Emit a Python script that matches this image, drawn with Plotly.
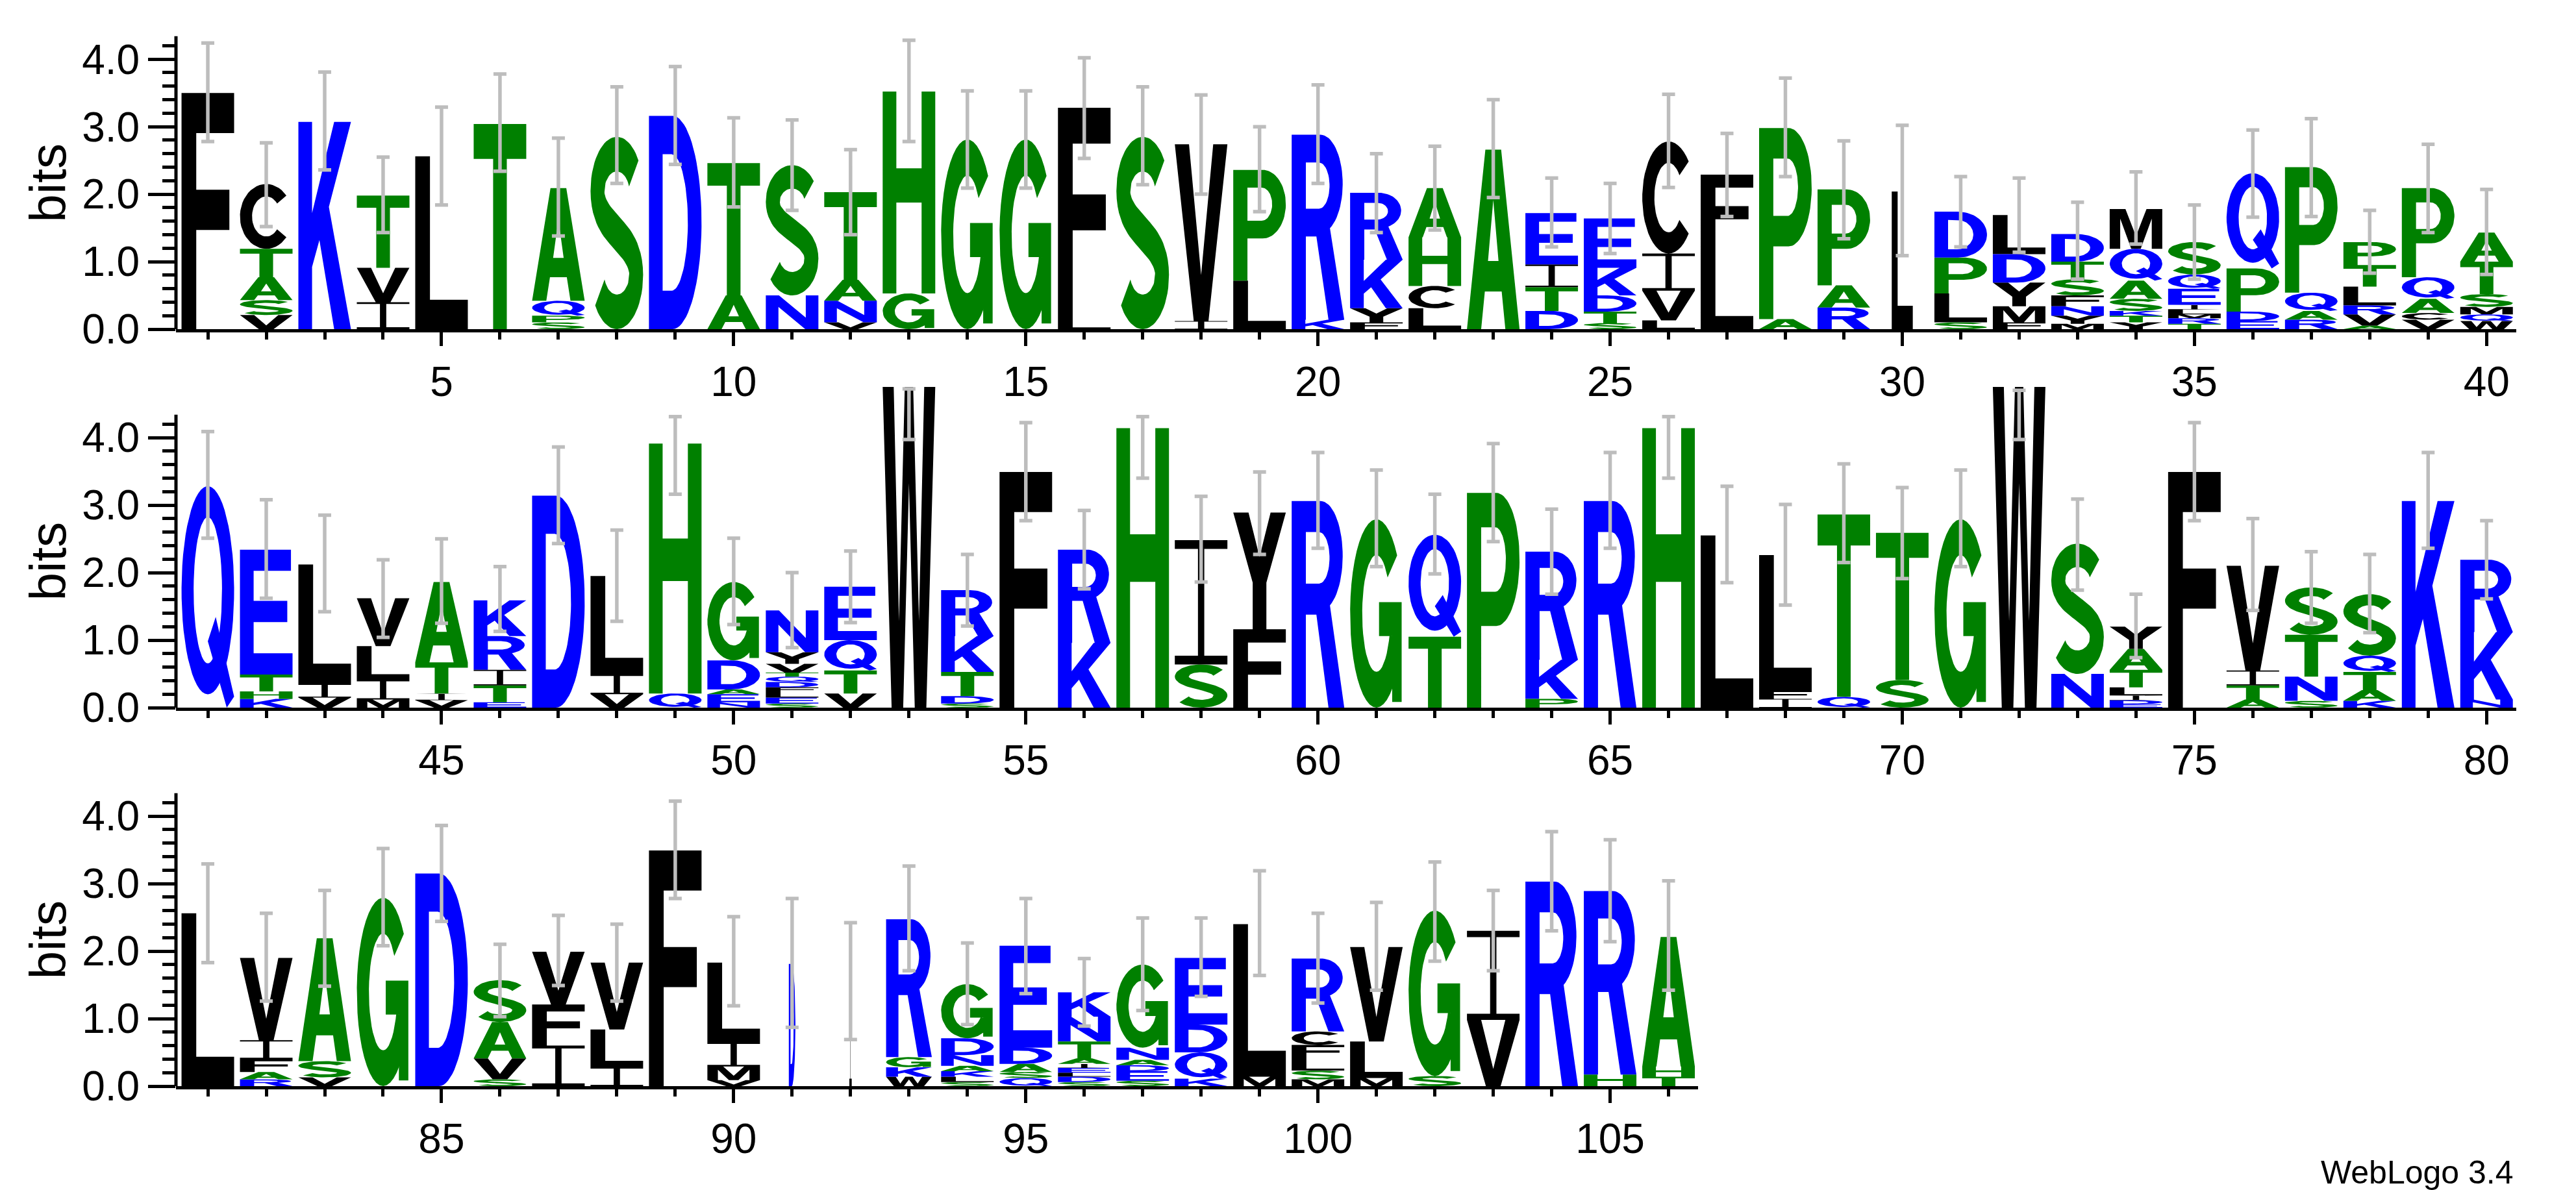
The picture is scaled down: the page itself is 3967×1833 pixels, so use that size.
import numpy as np
import plotly.graph_objects as go

# WebLogo of a 106-column protein alignment.
# letters: each column listed bottom -> top, heights in bits (same order)
letters = [
    "F", "VSATC", "K", "IVT", "L", "T", "SPQA", "S", "D", "AT",
    "NS", "VNAT", "GH", "G", "G", "LF", "S", "IV", "LP", "KR",
    "FYKR", "LCHA", "A", "DTIE", "STDKE", "LVIC", "LF", "AP", "RAP", "L",
    "SLPD", "FMYDL", "MYNFSTD", "YTKSAQM", "TRMLIEQS", "EDPQ", "RAQP", "AVRLTP", "VCAQP", "WQMSTA",
    "Q", "KHTE", "VIL", "MILV", "VITA", "ETIRK", "D", "VIL", "QH", "NEADG",
    "SELFDQTVYN", "VTQE", "W", "SDTKR", "F", "KR", "H", "SI", "FY", "R",
    "G", "TQ", "P", "PKR", "R", "H", "L", "IFL", "QT", "ST",
    "G", "W", "NS", "EDILTAY", "F", "ATIV", "SNTS", "KATQS", "K", "NKR",
    "L", "RAFIV", "VSA", "G", "D", "SVAS", "IFV", "ILV", "F", "VMIL",
    "D", "I", "WKGR", "SLKANDG", "QSADE", "SDLEIATNK", "SEDANG", "KQDE", "ML", "MSLFCR",
    "MLV", "SG", "VI", "R", "HR", "THA",
]

heights = [
    [3.50], [0.21, 0.22, 0.34, 0.42, 0.96], [3.07], [0.40, 0.51, 1.07], [2.56], [3.04],
    [0.10, 0.10, 0.22, 1.67], [2.85], [3.16], [0.50, 1.96],
    [0.50, 1.93], [0.10, 0.32, 0.31, 1.30], [0.53, 2.99], [2.81], [2.81], [0.15, 3.13], [2.85],
    [0.12, 2.62], [0.72, 1.64], [0.14, 2.74],
    [0.10, 0.21, 0.72, 0.99], [0.31, 0.33, 0.72, 0.73], [2.66], [0.27, 0.35, 0.34, 0.76],
    [0.09, 0.17, 0.24, 0.41, 0.73], [0.13, 0.44, 0.55, 1.66], [1.15, 1.14], [0.15, 2.83],
    [0.32, 0.33, 1.42], [2.04],
    [0.10, 0.43, 0.53, 0.68], [0.10, 0.24, 0.35, 0.42, 0.58], [0.08, 0.12, 0.14, 0.16, 0.24, 0.26, 0.41],
    [0.10, 0.10, 0.07, 0.18, 0.27, 0.47, 0.59], [0.08, 0.08, 0.06, 0.07, 0.07, 0.24, 0.21, 0.48],
    [0.12, 0.14, 0.64, 1.41], [0.14, 0.13, 0.27, 1.86], [0.05, 0.17, 0.13, 0.28, 0.32, 0.34],
    [0.14, 0.10, 0.21, 0.32, 1.32], [0.12, 0.10, 0.11, 0.19, 0.48, 0.43],
    [3.28], [0.13, 0.11, 0.25, 1.85], [0.15, 0.20, 1.77], [0.12, 0.29, 0.50, 0.71],
    [0.11, 0.10, 0.46, 1.19], [0.08, 0.25, 0.23, 0.50, 0.53], [3.14], [0.20, 0.29, 1.46],
    [0.21, 3.70], [0.08, 0.12, 0.07, 0.43, 1.16],
    [0.06, 0.09, 0.08, 0.07, 0.08, 0.08, 0.06, 0.13, 0.17, 0.62], [0.21, 0.34, 0.45, 0.79], [4.75],
    [0.06, 0.11, 0.36, 0.53, 0.68], [3.49], [0.96, 1.38], [4.14], [0.64, 1.84], [1.16, 1.73], [3.06],
    [2.79], [1.05, 1.51], [3.18], [0.13, 0.58, 1.60], [3.06], [4.14], [2.55], [0.13, 0.12, 2.01],
    [0.16, 2.70], [0.41, 2.18],
    [2.79], [4.75], [0.50, 1.93], [0.05, 0.06, 0.07, 0.12, 0.26, 0.31, 0.33], [3.49],
    [0.12, 0.21, 0.22, 1.55], [0.10, 0.36, 0.62, 0.70], [0.10, 0.16, 0.27, 0.24, 0.91], [3.06],
    [0.12, 1.00, 1.07],
    [2.56], [0.10, 0.11, 0.19, 0.28, 1.22], [0.13, 0.24, 1.82], [2.79], [3.15], [0.10, 0.31, 0.54, 0.62],
    [0.60, 0.61, 0.78], [0.28, 0.56, 0.99], [3.49], [0.09, 0.20, 0.36, 1.18],
    [1.81], [1.57], [0.14, 0.14, 0.15, 2.04], [0.06, 0.08, 0.08, 0.08, 0.16, 0.25, 0.80],
    [0.12, 0.09, 0.12, 0.24, 1.51], [0.06, 0.08, 0.06, 0.07, 0.06, 0.08, 0.25, 0.37, 0.36],
    [0.08, 0.14, 0.09, 0.08, 0.18, 1.23], [0.11, 0.39, 0.41, 0.99], [0.14, 2.26],
    [0.10, 0.13, 0.18, 0.20, 0.20, 1.08],
    [0.12, 0.54, 1.40], [0.15, 2.45], [0.98, 1.32], [3.03], [0.17, 2.72], [0.14, 0.15, 1.92],
]

# error bar ends (bits)
err_hi = [
    4.24, 2.76, 3.81, 2.55, 3.29, 3.78, 2.83, 3.59, 3.89, 3.13,
    3.10, 2.66, 4.28, 3.53, 3.53, 4.02, 3.59, 3.47, 3.00, 3.62,
    2.60, 2.71, 3.40, 2.24, 2.16, 3.48, 2.90, 3.72, 2.79, 3.02,
    2.26, 2.24, 1.88, 2.33, 1.84, 2.95, 3.12, 1.76, 2.74, 2.07,
    4.09, 3.08, 2.85, 2.19, 2.50, 2.09, 3.86, 2.63, 4.31, 2.51,
    2.00, 2.32, 4.72, 2.27, 4.22, 2.92, 4.31, 3.13, 3.49, 3.78,
    3.52, 3.16, 3.91, 2.94, 3.78, 4.31, 3.28, 3.01, 3.61, 3.26,
    3.52, 4.70, 3.09, 1.68, 4.22, 2.80, 2.31, 2.27, 3.78, 2.77,
    3.29, 2.56, 2.90, 3.52, 3.86, 2.10, 2.53, 2.40, 4.22, 2.51,
    2.78, 2.42, 3.26, 2.12, 2.78, 1.89, 2.49, 2.49, 3.19, 2.56,
    2.72, 3.32, 2.90, 3.77, 3.65, 3.04,
]
err_lo = [
    2.78, 1.52, 2.36, 1.43, 1.84, 2.34, 1.38, 2.16, 2.44, 1.81,
    1.76, 1.40, 2.78, 2.09, 2.09, 2.53, 2.14, 2.00, 1.74, 2.16,
    1.43, 1.47, 1.95, 1.22, 1.12, 2.10, 1.67, 2.26, 1.34, 1.09,
    1.22, 1.14, 0.74, 1.26, 0.74, 1.66, 1.67, 0.83, 1.43, 0.81,
    2.51, 1.62, 1.42, 1.04, 1.25, 1.13, 2.43, 1.28, 3.16, 1.23,
    0.89, 1.26, 3.97, 1.21, 2.77, 1.76, 3.40, 1.86, 2.27, 2.36,
    2.09, 1.98, 2.46, 1.68, 2.36, 3.40, 1.85, 1.52, 2.15, 1.91,
    2.09, 3.97, 1.74, 0.74, 2.77, 1.44, 1.25, 1.11, 2.36, 1.61,
    1.83, 1.26, 1.48, 2.08, 2.44, 1.03, 1.49, 1.26, 2.78, 1.19,
    0.87, 0.69, 1.71, 0.91, 1.37, 0.89, 1.12, 1.33, 1.64, 1.23,
    1.42, 1.85, 1.71, 2.30, 2.14, 1.42,
]

# columns drawn narrower (fraction of sequences without a gap)
width_frac = {30: 0.40, 91: 0.125, 92: 0.045, 93: 0.87}

rows = [(1, 40), (41, 80), (81, 106)]

assert len(letters) == len(heights) == len(err_hi) == len(err_lo) == 106
for s, h in zip(letters, heights):
    assert len(s) == len(h)

COLOR = {}
for c in "FCVLIYMW":
    COLOR[c] = "#000000"
for c in "KRDEQN":
    COLOR[c] = "#0000FF"
for c in "TASGHP":
    COLOR[c] = "#008000"


# ---- glyph outlines in a unit box (x 0..1, y 0..1) ----
def arc(cx, cy, rx, ry, a0, a1, n=40):
    t = np.radians(np.linspace(a0, a1, n))
    return list(zip(cx + rx * np.cos(t), cy + ry * np.sin(t)))


def area(p):
    p = np.asarray(p)
    return 0.5 * np.sum(p[:, 0] * np.roll(p[:, 1], -1) - np.roll(p[:, 0], -1) * p[:, 1])


def ccw(p):
    return list(p) if area(p) > 0 else list(p)[::-1]


def keyhole(outer, hole):
    o = ccw(outer)
    h = ccw(hole)[::-1]
    return o + [o[0]] + h + [h[0]]


def ring(a0, a1, ro=(0.5, 0.5), ri=(0.27, 0.31)):
    return ccw(arc(0.5, 0.5, ro[0], ro[1], a0, a1) + arc(0.5, 0.5, ri[0], ri[1], a1, a0))


def s_shape():
    tx, ty = 0.27, 0.18
    rx, ry = 0.5 - tx / 2, 0.19
    cu, cl = 1 - ty / 2 - ry, ty / 2 + ry
    up = arc(0.5, cu, rx, ry, 28, 180, 30)
    t = np.linspace(0, 1, 30)[1:-1]
    p0, p1, p2, p3 = (np.array(v) for v in [(0.5 - rx, cu), (0.5 - rx, 0.50), (0.5 + rx, 0.50), (0.5 + rx, cl)])
    bez = [tuple(((1 - s) ** 3) * p0 + 3 * s * (1 - s) ** 2 * p1 + 3 * s * s * (1 - s) * p2 + s ** 3 * p3) for s in t]
    lo = arc(0.5, cl, rx, ry, 0, -152, 30)
    pts = np.array(up + bez + lo)
    d = np.gradient(pts, axis=0)
    n = np.stack([-d[:, 1], d[:, 0]], axis=1)
    n /= np.linalg.norm(n, axis=1)[:, None]
    off = n * np.array([tx / 2, ty / 2])
    left = pts + off
    right = pts - off
    return ccw([tuple(v) for v in left] + [tuple(v) for v in right[::-1]])


GLYPH = {
    "A": [keyhole([(0, 0), (0.35, 1), (0.65, 1), (1, 0), (0.73, 0), (0.66, 0.21), (0.34, 0.21), (0.27, 0)],
                  [(0.40, 0.38), (0.60, 0.38), (0.50, 0.72)])],
    "C": [ring(40, 320)],
    "D": [keyhole([(0, 0), (0, 1), (0.45, 1)] + arc(0.45, 0.5, 0.55, 0.5, 90, -90),
                  [(0.26, 0.18), (0.26, 0.82), (0.43, 0.82)] + arc(0.43, 0.5, 0.31, 0.32, 90, -90))],
    "E": [ccw([(0, 0), (0, 1), (0.97, 1), (0.97, 0.83), (0.26, 0.83), (0.26, 0.59), (0.9, 0.59),
               (0.9, 0.42), (0.26, 0.42), (0.26, 0.17), (1, 0.17), (1, 0)])],
    "F": [ccw([(0, 0), (0, 1), (1, 1), (1, 0.83), (0.28, 0.83), (0.28, 0.59), (0.91, 0.59),
               (0.91, 0.42), (0.28, 0.42), (0.28, 0)])],
    "G": [ring(38, 340),
          ccw([(0.55, 0.38), (0.80, 0.38), (0.80, 0.03), (0.98, 0.03), (0.98, 0.56), (0.55, 0.56)])],
    "H": [ccw([(0, 0), (0, 1), (0.26, 1), (0.26, 0.62), (0.74, 0.62), (0.74, 1), (1, 1), (1, 0),
               (0.74, 0), (0.74, 0.45), (0.26, 0.45), (0.26, 0)])],
    "I": [ccw([(0, 0), (1, 0), (1, 0.07), (0.56, 0.07), (0.56, 0.93), (1, 0.93), (1, 1), (0, 1),
               (0, 0.93), (0.44, 0.93), (0.44, 0.07), (0, 0.07)])],
    "K": [ccw([(0, 0), (0, 1), (0.26, 1), (0.26, 0.56), (0.68, 1), (1, 1), (0.58, 0.59), (1, 0),
               (0.68, 0), (0.40, 0.43), (0.26, 0.30), (0.26, 0)])],
    "L": [ccw([(0, 0), (0, 1), (0.28, 1), (0.28, 0.17), (1, 0.17), (1, 0)])],
    "M": [ccw([(0, 0), (0, 1), (0.3, 1), (0.5, 0.32), (0.7, 1), (1, 1), (1, 0), (0.8, 0), (0.8, 0.76),
               (0.59, 0), (0.41, 0), (0.2, 0.76), (0.2, 0)])],
    "N": [ccw([(0, 0), (0, 1), (0.25, 1), (0.76, 0.34), (0.76, 1), (1, 1), (1, 0), (0.75, 0),
               (0.24, 0.66), (0.24, 0)])],
    "P": [keyhole([(0, 0), (0, 1), (0.56, 1)] + arc(0.56, 0.69, 0.44, 0.31, 90, -90) + [(0.27, 0.38), (0.27, 0)],
                  [(0.27, 0.54), (0.27, 0.84), (0.54, 0.84)] + arc(0.54, 0.69, 0.2, 0.15, 90, -90))],
    "Q": [keyhole(arc(0.5, 0.53, 0.5, 0.47, -90, 270, 60), arc(0.5, 0.53, 0.27, 0.33, -90, 270, 60)),
          ccw([(0.50, 0.30), (0.65, 0.41), (1.0, 0.05), (0.86, 0.0)])],
    "R": [keyhole([(0, 0), (0, 1), (0.55, 1)] + arc(0.55, 0.735, 0.42, 0.265, 90, -65, 30)
                  + [(1.0, 0.0), (0.70, 0.0), (0.47, 0.45), (0.27, 0.45), (0.27, 0)],
                  [(0.27, 0.6), (0.27, 0.85), (0.52, 0.85)] + arc(0.52, 0.725, 0.2, 0.125, 90, -90, 24))],
    "S": [s_shape()],
    "T": [ccw([(0, 1), (1, 1), (1, 0.83), (0.63, 0.83), (0.63, 0), (0.37, 0), (0.37, 0.83), (0, 0.83)])],
    "V": [ccw([(0, 1), (0.27, 1), (0.5, 0.26), (0.73, 1), (1, 1), (0.64, 0), (0.36, 0)])],
    "W": [ccw([(0, 1), (0.21, 1), (0.31, 0.27), (0.42, 1), (0.58, 1), (0.69, 0.27), (0.79, 1), (1, 1),
               (0.83, 0), (0.61, 0), (0.5, 0.7), (0.39, 0), (0.17, 0)])],
    "Y": [ccw([(0, 1), (0.29, 1), (0.5, 0.62), (0.71, 1), (1, 1), (0.63, 0.4), (0.63, 0), (0.37, 0),
               (0.37, 0.4)])],
}

FONT = "Liberation Sans, Arial, Helvetica, sans-serif"
W_PX, H_PX = 3967, 1833
PX_COL = 89.98
PX_BIT = 104.0
X0_PX = 263
Y_TOP = 4.8
row_bottom = [499, 1082, 1665]
GRAY = "#BDBDBD"

fig = go.Figure()
layout = dict(width=W_PX, height=H_PX, margin=dict(l=0, r=0, t=0, b=0),
              paper_bgcolor="white", plot_bgcolor="white", showlegend=False,
              shapes=[], annotations=[])

for r, (lo, hi) in enumerate(rows):
    k = "" if r == 0 else str(r + 1)
    xa, ya = "x" + k, "y" + k
    layers = {}
    for pos in range(lo, hi + 1):
        i = pos - 1
        w = 0.9 * width_frac.get(pos, 1.0)
        y0 = 0.0
        for ch, h in zip(letters[i], heights[i]):
            for li, part in enumerate(GLYPH[ch]):
                xs, ys = layers.setdefault((COLOR[ch], li), ([], []))
                for u, v in part:
                    xs.append(pos + (u - 0.5) * w)
                    ys.append(y0 + v * h)
                xs.append(None)
                ys.append(None)
            y0 += h
    for (col, li), (xs, ys) in sorted(layers.items(), key=lambda t: t[0][1]):
        fig.add_trace(go.Scatter(x=xs, y=ys, xaxis=xa, yaxis=ya, mode="lines",
                                 line=dict(width=0, color=col), fill="toself",
                                 fillcolor=col, hoverinfo="skip"))
    idx = list(range(lo - 1, hi))
    fig.add_trace(go.Scatter(
        x=[i + 1 for i in idx], y=[(err_hi[i] + err_lo[i]) / 2 for i in idx],
        xaxis=xa, yaxis=ya, mode="markers", marker=dict(color="rgba(0,0,0,0)", size=1),
        error_y=dict(type="data", symmetric=True, array=[(err_hi[i] - err_lo[i]) / 2 for i in idx],
                     color=GRAY, thickness=5.5, width=10),
        hoverinfo="skip"))

    x_range = [lo - 0.545, hi + 0.51]
    x_dom = [X0_PX / W_PX, (X0_PX + (x_range[1] - x_range[0]) * PX_COL) / W_PX]
    b = row_bottom[r]
    y_dom = [1 - b / H_PX, min(1.0, 1 - (b - Y_TOP * PX_BIT) / H_PX)]
    layout["xaxis" + k] = dict(
        domain=x_dom, range=x_range, anchor=ya, showline=True, linecolor="black", linewidth=5,
        ticks="outside", tickvals=[v for v in range(lo, hi + 1) if v % 5 == 0], ticklen=21,
        tickwidth=5, tickcolor="black",
        minor=dict(tickvals=list(range(lo, hi + 1)), ticks="outside", ticklen=11, tickwidth=5,
                   tickcolor="black"),
        showgrid=False, zeroline=False, automargin=False, fixedrange=True,
        tickfont=dict(family=FONT, size=64, color="black"))
    layout["yaxis" + k] = dict(
        domain=y_dom, range=[0, Y_TOP], anchor=xa, showline=False,
        ticks="outside", tickvals=[0, 1, 2, 3, 4], ticktext=["0.0", "1.0", "2.0", "3.0", "4.0"],
        ticklen=42, tickwidth=5, tickcolor="black",
        minor=dict(tickvals=[round(0.2 * j, 1) for j in range(1, 22) if j % 5], ticks="outside",
                   ticklen=20, tickwidth=5, tickcolor="black"),
        showgrid=False, zeroline=False, automargin=False, fixedrange=True,
        tickfont=dict(family=FONT, size=64, color="black"))
    layout["shapes"].append(dict(type="line", xref=xa + " domain", yref=ya, x0=0, x1=0, y0=0, y1=4.34,
                                 line=dict(color="black", width=5)))
    layout["annotations"].append(dict(text="bits", textangle=-90, xref="paper", yref=ya,
                                      x=66 / W_PX, y=2.16, xanchor="center", yanchor="middle",
                                      showarrow=False, font=dict(family=FONT, size=78, color="black")))

layout["annotations"].append(dict(text="WebLogo 3.4", xref="paper", yref="paper",
                                  x=3865 / W_PX, y=1 - 1798 / H_PX, xanchor="right", yanchor="middle",
                                  showarrow=False, font=dict(family=FONT, size=50, color="black")))

fig.update_layout(**layout)
fig.write_html("out.html")
